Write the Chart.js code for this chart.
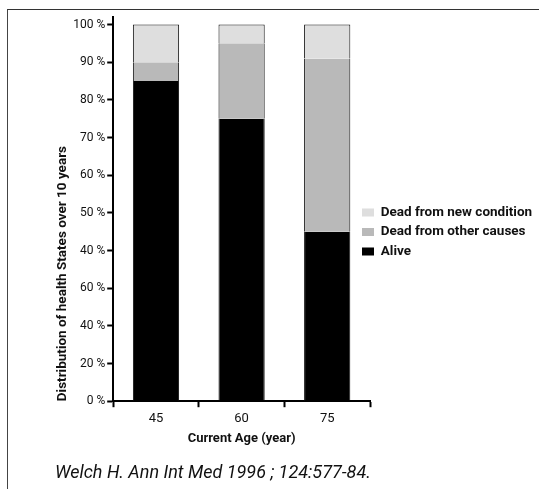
<!DOCTYPE html>
<html>
<head>
<meta charset="utf-8">
<script src="https://cdn.jsdelivr.net/npm/chart.js@4"></script>
<style>
  body { margin: 0; background: #fff; }
  #wrap { position: relative; width: 539px; height: 489px; }
  #frame { position: absolute; left: 7px; top: 9px; right: 0; bottom: 0;
           border-top: 1px solid #333; border-left: 1px solid #444; }
  #wrap canvas { position: absolute; left: 0; top: 0; }
</style>
</head>
<body>
<div id="wrap">
  <div id="frame"></div>
  <canvas id="HealthChart"></canvas>
</div>
<script>
const ages = ['45', '60', '75'];
const alive = [85, 75, 45];
const deadOther = [5, 20, 46];
const deadNew = [10, 5, 9];
// tick labels as printed in the original figure (bottom to top)
const yTickLabels = ['0 %', '20 %', '40 %', '60 %', '40 %', '50 %', '60 %', '70 %', '80 %', '90 %', '100 %'];

const FONT = "Roboto, 'Liberation Sans', sans-serif";

// legend sits a bit closer to the plot and lower than chart.js would put it
const placeLegend = {
  id: 'placeLegend',
  afterLayout(chart) {
    const a = chart.chartArea;
    chart.legend.left = a.right - 14;
    chart.legend.top = a.top;
    chart.legend.bottom = a.bottom + 46;
  }
};

const data = {
  labels: ages,
  datasets: [{
    label: 'Alive',
    data: alive,
    backgroundColor: '#000000',
    borderColor: '#111111',
    borderWidth: {top: 0, left: 1, right: 1, bottom: 0}
  }, {
    label: 'Dead from other causes',
    data: deadOther,
    backgroundColor: '#b9b9b9',
    borderColor: '#111111',
    borderWidth: {top: 0, left: 1, right: 1, bottom: 0}
  }, {
    label: 'Dead from new condition',
    data: deadNew,
    backgroundColor: '#dedede',
    borderColor: '#111111',
    borderWidth: {top: 1, left: 1, right: 1, bottom: 0}
  }]
};

const config = {
  type: 'bar',
  data: data,
  plugins: [placeLegend],
  options: {
    responsive: true,
    maintainAspectRatio: false,
    animation: false,
    layout: { padding: { top: 17, left: 55, right: 0, bottom: 0 } },
    datasets: { bar: { categoryPercentage: 1, barPercentage: 0.54 } },
    scales: {
      x: {
        stacked: true,
        grid: {
          drawOnChartArea: false,
          tickLength: 6,
          tickWidth: 2,
          tickColor: (ctx) => ctx.index === ages.length ? 'rgba(0,0,0,0)' : '#000'
        },
        border: { color: '#000', width: 2 },
        ticks: { color: '#111', padding: 4, font: { family: FONT, size: 13 } },
        title: {
          display: true,
          text: 'Current Age (year)',
          color: '#111',
          padding: { top: 0, bottom: 0 },
          font: { family: FONT, size: 13, weight: 'bold' }
        }
      },
      y: {
        stacked: true,
        min: 0,
        max: 102,
        grid: { drawOnChartArea: false, tickLength: 6, tickWidth: 2, tickColor: '#000' },
        border: { color: '#000', width: 2 },
        ticks: {
          stepSize: 10,
          includeBounds: false,
          padding: 2,
          color: '#111',
          font: { family: FONT, size: 12 },
          callback: (v) => yTickLabels[v / 10]
        },
        title: {
          display: true,
          align: 'start',
          text: 'Distribution of health States over 10 years',
          color: '#111',
          padding: { top: 0, bottom: 0 },
          font: { family: FONT, size: 13.5, weight: 'bold' }
        }
      }
    },
    plugins: {
      legend: {
        position: 'right',
        reverse: true,
        maxWidth: 169,
        labels: {
          boxWidth: 12,
          boxHeight: 8,
          padding: 6,
          color: '#111',
          font: { family: FONT, size: 13.5, weight: 'bold' },
          generateLabels: (chart) => Chart.defaults.plugins.legend.labels.generateLabels(chart)
            .map((l) => Object.assign(l, { lineWidth: 0 }))
        }
      },
      title: {
        display: true,
        position: 'bottom',
        align: 'start',
        text: 'Welch H. Ann Int Med 1996 ; 124:577-84.',
        color: '#111',
        padding: { top: 16, bottom: 5 },
        font: { family: FONT, size: 18, style: 'italic', weight: 'normal' }
      },
      tooltip: { enabled: false }
    }
  }
};

const healthChart = new Chart(document.getElementById('HealthChart'), config);
</script>
</body>
</html>
